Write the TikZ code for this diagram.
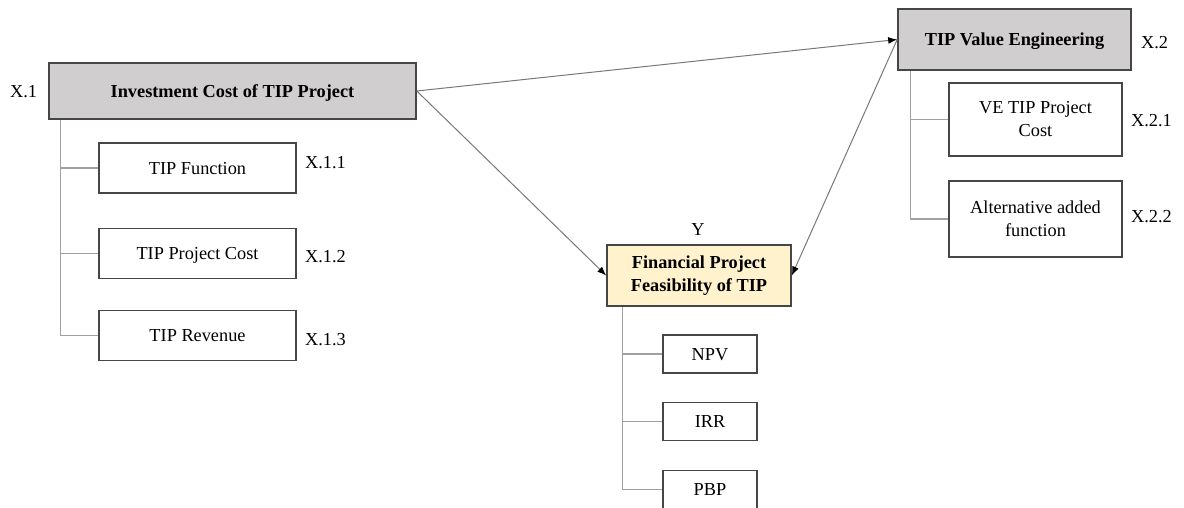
\documentclass[tikz,border=0pt]{standalone}
\usepackage{fontspec}
\setmainfont{Liberation Serif}
\usetikzlibrary{arrows.meta}
\definecolor{boxgray}{RGB}{208,206,206}
\definecolor{feasyellow}{RGB}{255,242,204}
\definecolor{edgegray}{RGB}{70,70,70}
\definecolor{treegray}{RGB}{160,160,160}
\definecolor{arrowgray}{RGB}{120,120,120}

\begin{document}
\begin{tikzpicture}[x=1pt, y=-1pt,
  every node/.style={font=\fontsize{18.3}{23}\selectfont, inner sep=0pt, align=center},
  oneline/.style={text height=12.3pt, text depth=0pt},
  mainbox/.style={draw=edgegray, line width=1.6pt, fill=boxgray, font=\fontsize{18.3}{23}\selectfont\bfseries},
  finbox/.style={draw=edgegray, line width=1.6pt, fill=feasyellow, font=\fontsize{18.3}{23}\selectfont\bfseries},
  subbox/.style={draw=edgegray, line width=1.4pt, fill=white},
  tree/.style={draw=treegray, line width=1.2pt},
  conn/.style={draw=arrowgray, line width=1pt, -{Latex[color=black, length=9pt, width=7pt]}}]
\useasboundingbox (0,0) rectangle (1184,508);

% the three main variables
\node[mainbox, oneline, minimum width=367, minimum height=56] (inv) at (232.5,91) {Investment Cost of TIP Project};
\node[mainbox, oneline, minimum width=233, minimum height=61] (ve) at (1014.5,39.5) {TIP Value Engineering};
\node[finbox, minimum width=184, minimum height=61] (fin) at (699,275.5) {Financial Project\\Feasibility of TIP};

\node[anchor=west] (invlbl) at (10,92) {X.1};
\node[anchor=west] (velbl) at (1141,43) {X.2};
\node (finlbl) at (698,230) {Y};

% X.1 indicators
\foreach \y/\ly/\name/\txt/\lbl in {168/163/f1/TIP Function/X.1.1, 253.5/257/f2/TIP Project Cost/X.1.2, 335.5/340/f3/TIP Revenue/X.1.3} {
  \node[subbox, oneline, minimum width=197, minimum height=50] (\name) at (197.5,\y) {\txt};
  \node[anchor=west] (\name lbl) at (305,\ly) {\lbl};
  \draw[tree] ([xshift=12]inv.south west) |- (\name.west);
}

% X.2 indicators
\foreach \y/\h/\ly/\name/\txt/\lbl in {119.5/73/121/v1/VE TIP Project\\Cost/X.2.1, 219/76/217/v2/Alternative added\\function/X.2.2} {
  \node[subbox, minimum width=173, minimum height=\h] (\name) at (1035.5,\y) {\txt};
  \node[anchor=west] (\name lbl) at (1131,\ly) {\lbl};
  \draw[tree] ([xshift=13]ve.south west) |- (\name.west);
}

% Y indicators
\foreach \y/\name/\txt in {354/npv/NPV, 421.5/irr/IRR, 489.5/pbp/PBP} {
  \node[subbox, oneline, minimum width=94, minimum height=38] (\name) at (710,\y) {\txt};
  \draw[tree] ([xshift=16]fin.south west) |- (\name.west);
}

\draw[conn] (inv.east) -- (ve.west);
\draw[conn] (inv.east) -- (fin.west);
\draw[conn] (ve.west) -- (fin.east);
\end{tikzpicture}
\end{document}
